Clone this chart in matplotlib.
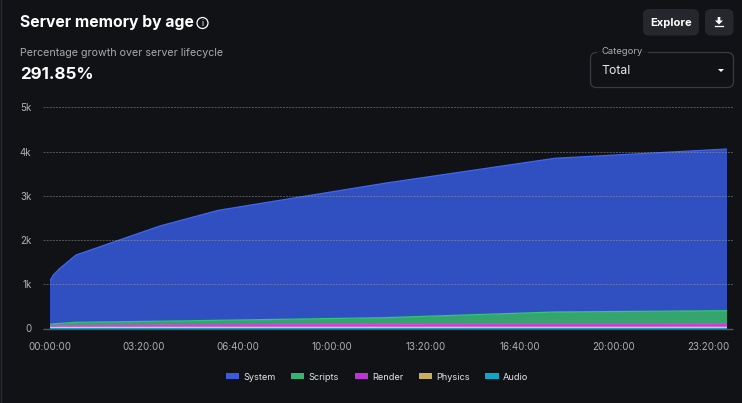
import matplotlib
matplotlib.use("Agg")
import matplotlib.pyplot as plt
from matplotlib.patches import FancyBboxPatch, Patch, Circle

plt.rcParams['font.family'] = ['Inter', 'DejaVu Sans']

# hours since server start, memory per category (stack heights)
hours = [0, 0.135, 0.37, 0.94, 3.91, 5.98, 11.88, 17.9, 24]
audio = [8, 8, 8, 8, 8, 8, 8, 8, 8]
physics = [17, 17, 18, 18, 19, 19, 20, 20, 20]
render = [40, 43, 44, 46, 51, 55, 62, 72, 74]
scripts = [30, 37, 45, 68, 87, 103, 155, 273, 301]
system = [964, 1105, 1247, 1523, 2154, 2489, 3042, 3478, 3658]
names = ["System", "Scripts", "Render", "Physics", "Audio"]

fills = ["#3050c2", "#36a56d", "#c838d8", "#e0c48c", "#10a0c0"]
edges = ["#3f66f0", "#35c47c", "#e040f0", "#e8d090", "#10b4d8"]
legend_colors = ["#3a5cdc", "#35b573", "#bb35d4", "#c9ae5c", "#0ea5c8"]
y_ticks = [0, 1000, 2000, 3000, 4000, 5000]
y_labels = ["0", "1k", "2k", "3k", "4k", "5k"]
x_ticks = [0, 10 / 3, 20 / 3, 10, 40 / 3, 50 / 3, 20, 70 / 3]
x_labels = ["00:00:00", "03:20:00", "06:40:00", "10:00:00", "13:20:00", "16:40:00", "20:00:00", "23:20:00"]

W, H = 742, 403
bg = "#111216"
fig = plt.figure(figsize=(W / 100, H / 100), dpi=100, facecolor=bg)

ax = fig.add_axes([49.5 / W, 1 - 328.5 / H, 677.5 / W, 221 / H], facecolor=bg)
series = [audio, physics, render, scripts, system]
ax.stackplot(hours, series, colors=fills[::-1], edgecolor="none", zorder=2)
total = [0] * len(hours)
for s, c in zip(series, edges[::-1]):
    total = [a + b for a, b in zip(total, s)]
    ax.plot(hours, total, color=c, lw=0.9, zorder=3)
ax.set_xlim(0, 24)
ax.set_ylim(0, 5000)
ax.set_xticks(x_ticks)
ax.set_xticklabels(x_labels)
ax.set_yticks(y_ticks)
ax.set_yticklabels(y_labels)
ax.tick_params(axis="both", length=0, labelsize=7.0, labelcolor="#b0b1b5")
ax.tick_params(axis="x", pad=9.5)
ax.tick_params(axis="y", pad=13)
# grid runs a few pixels past the plot on both sides
ax.hlines(y_ticks[1:], -0.23, 24.2, color="#9a9b9f", lw=0.7, ls=(0, (2, 1.2)), alpha=0.5, zorder=4, clip_on=False)
ax.hlines(0, -0.23, 24.2, color="#55565a", lw=1, zorder=4, clip_on=False)
for side in ["top", "right", "left", "bottom"]:
    ax.spines[side].set_visible(False)

handles = [Patch(facecolor=c, edgecolor="none") for c in legend_colors]
fig.legend(handles, names, loc="center", bbox_to_anchor=(377 / W, 1 - 377 / H), ncol=5,
           frameon=False, fontsize=6.6, labelcolor="#e4e5e8", handlelength=1.45,
           handleheight=0.55, handletextpad=0.45, columnspacing=1.7)

# card chrome in pixel coordinates
ui = fig.add_axes([0, 0, 1, 1], facecolor="none", zorder=5)
ui.set_xlim(0, W)
ui.set_ylim(H, 0)
ui.axis("off")
ui.plot([0.5, 0.5], [0, H], color="#2a2b30", lw=1)

ui.text(20, 23, "Server memory by age", color="white", fontsize=11.3, fontweight="bold", va="center")
ui.add_patch(Circle((202.5, 23), 5.5, fill=False, ec="white", lw=0.9))
ui.text(202.5, 23.2, "i", color="white", fontsize=6, ha="center", va="center")
ui.text(20, 53, "Percentage growth over server lifecycle", color="#a9aaae", fontsize=7.7, va="center")
ui.text(20, 74.5, "291.85%", color="white", fontsize=12.2, fontweight="bold", va="center")

ui.add_patch(FancyBboxPatch((643, 9), 56, 26.5, boxstyle="round,pad=0,rounding_size=6", fc="#26272c", ec="none"))
ui.text(671, 22.5, "Explore", color="white", fontsize=8.0, fontweight="bold", ha="center", va="center")
ui.add_patch(FancyBboxPatch((705, 9), 28.5, 26.5, boxstyle="round,pad=0,rounding_size=6", fc="#26272c", ec="none"))
ui.fill([717.7, 720.3, 720.3, 723, 719, 715, 717.7], [17, 17, 20.5, 20.5, 24.5, 20.5, 20.5], color="white", lw=0)
ui.plot([715.2, 722.8], [26.3, 26.3], color="white", lw=0.9)

ui.add_patch(FancyBboxPatch((590.5, 52.5), 143, 35, boxstyle="round,pad=0,rounding_size=6", fc="none", ec="#3a3b40", lw=0.9))
ui.plot([598, 646], [52.5, 52.5], color=bg, lw=2)
ui.text(601, 52, "Category", color="#a9aaae", fontsize=6.8, va="center")
ui.text(601, 70.5, "Total", color="#e8e8ea", fontsize=8.8, va="center")
ui.fill([718, 724, 721], [69, 69, 72], color="white", lw=0)

fig.savefig("out.png", dpi=100, facecolor=bg)
